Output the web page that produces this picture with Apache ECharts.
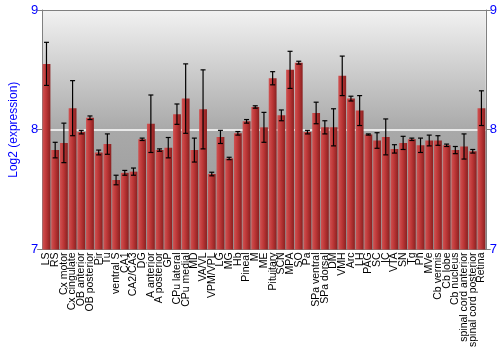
<!DOCTYPE html>
<html><head><meta charset="utf-8">
<script src="https://cdn.jsdelivr.net/npm/echarts@6/dist/echarts.min.js"></script>
<style>html,body{margin:0;padding:0;background:#fff}#c{width:500px;height:350px}</style>
</head><body><div id="c"></div>
<script>
const categories = ["LS","RS","Cx motor","Cx cingulate","OB anterior","OB posterior","Pir","Tu","ventral S","CA1","CA2/CA3","DG","A anterior","A posterior","GP","CPu lateral","CPu medial","MD","VA/VL","VPM/VPL","LG","MG","Hb","Pineal","M","ME","Pituitary","SCN","MPA","SO","Pa","SPa ventral","SPa dorsal","DM","VMH","Arc","LH","PAG","SC","IC","VTA","SN","Tg","Pn","MVe","Cb vermis","Cb lobe","Cb nucleus","spinal cord anterior","spinal cord posterior","Retina"];
const values = [8.55,7.83,7.89,8.18,7.98,8.10,7.81,7.88,7.58,7.64,7.65,7.92,8.05,7.83,7.85,8.13,8.26,7.83,8.17,7.63,7.94,7.76,7.97,8.07,8.19,8.02,8.43,8.12,8.50,8.56,7.98,8.14,8.02,8.02,8.45,8.26,8.16,7.96,7.91,7.94,7.84,7.89,7.92,7.87,7.91,7.91,7.87,7.83,7.86,7.82,8.18];
const errors = [0.18,0.065,0.165,0.23,0.015,0.015,0.02,0.085,0.04,0.02,0.03,0.01,0.24,0.01,0.085,0.085,0.29,0.10,0.33,0.015,0.055,0.01,0.015,0.015,0.01,0.125,0.055,0.045,0.155,0.012,0.015,0.09,0.055,0.155,0.165,0.02,0.125,0.005,0.065,0.15,0.035,0.055,0.01,0.06,0.045,0.04,0.01,0.03,0.105,0.015,0.145];
const yTicks = [7, 8, 9];

const chart = echarts.init(document.getElementById('c'), null, {renderer:'canvas'});
const errData = values.map((v,i)=>[i, v - errors[i], v + errors[i]]);
const font = 'Liberation Sans, Arial, sans-serif';
chart.setOption({
  animation:false,
  grid:{left:27,right:13,top:10,bottom:100,show:true,borderWidth:0,
    backgroundColor:new echarts.graphic.LinearGradient(0,0,0,1,[
      {offset:0,color:'#f2f2f2'},{offset:0.5,color:'#a9a9a9'},{offset:1,color:'#959595'}])},
  xAxis:[{type:'category',data:categories,
    axisLine:{show:true,lineStyle:{color:'#808080'}},axisTick:{show:false},
    axisLabel:{interval:0,rotate:90,fontSize:10.5,color:'#000',fontFamily:font,margin:3}},
    {type:'category',position:'top',data:categories,axisLine:{show:true,lineStyle:{color:'#808080',width:1}},axisTick:{show:false},axisLabel:{show:false}}],
  yAxis:[{type:'value',min:7,max:9,interval:1,name:'Log2 (expression)',nameLocation:'middle',nameGap:20,
    nameTextStyle:{color:'#0000ff',fontSize:12,fontFamily:font},
    axisLine:{show:true,lineStyle:{color:'#808080'}},axisTick:{show:true,length:5,lineStyle:{color:'#808080'}},
    axisLabel:{color:'#0000ff',fontSize:13,fontFamily:font,margin:4,formatter:v=>yTicks.includes(v)?String(v):''},
    splitLine:{show:true,lineStyle:{color:'#ffffff',width:1.5}}},
   {type:'value',min:7,max:9,interval:1,position:'right',
    axisLine:{show:true,lineStyle:{color:'#808080'}},axisTick:{show:true,length:5,lineStyle:{color:'#808080'}},
    axisLabel:{color:'#0000ff',fontSize:13,fontFamily:font,margin:4},splitLine:{show:false}}],
  series:[{type:'bar',data:values,barCategoryGap:'10%',clip:true,
    itemStyle:{color:new echarts.graphic.LinearGradient(0,0,1,0,[
      {offset:0,color:'#d05252'},{offset:0.45,color:'#bd3737'},{offset:1,color:'#8a2020'}])}},
   {type:'custom',data:errData,z:10,
    renderItem:function(params,api){
      const x=api.value(0);
      const lo=api.coord([x,api.value(1)]);
      const hi=api.coord([x,api.value(2)]);
      const w=2.5;
      const st={stroke:'#000',lineWidth:1.2};
      return {type:'group',children:[
        {type:'line',shape:{x1:lo[0],y1:lo[1],x2:hi[0],y2:hi[1]},style:st},
        {type:'line',shape:{x1:lo[0]-w,y1:lo[1],x2:lo[0]+w,y2:lo[1]},style:st},
        {type:'line',shape:{x1:hi[0]-w,y1:hi[1],x2:hi[0]+w,y2:hi[1]},style:st}]};
    }}]
});
</script></body></html>
